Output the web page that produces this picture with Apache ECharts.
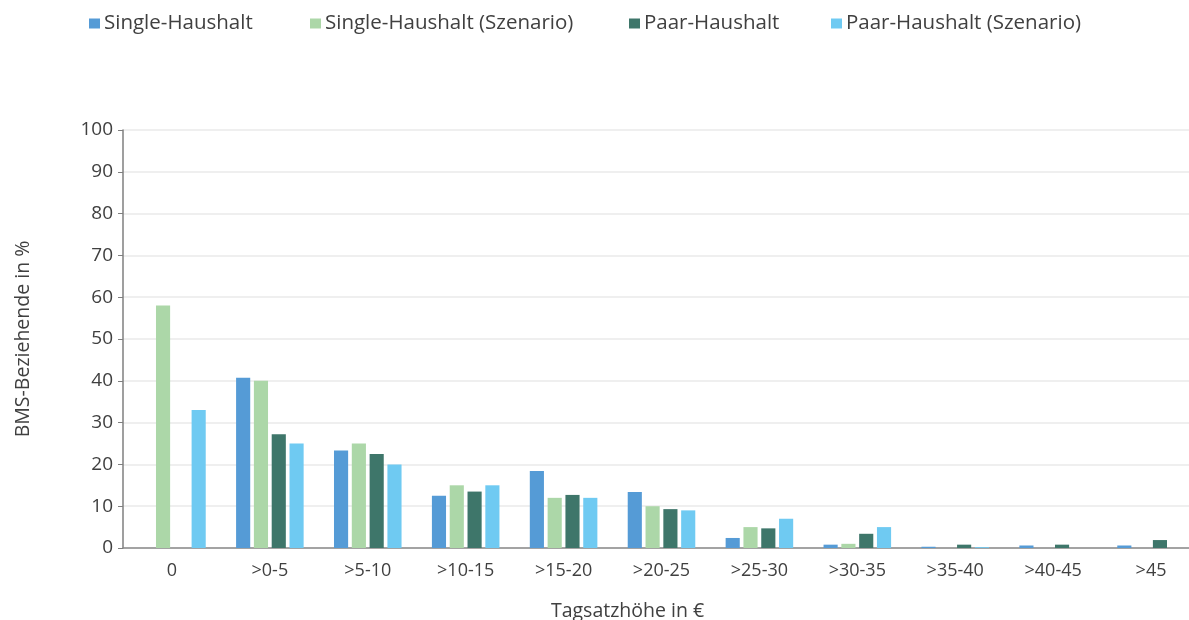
<!DOCTYPE html>
<html lang="de">
	<head>
		<meta charset="UTF-8" />
		<title>Tagsatzhöhe</title>
		<style>
			* {
				box-sizing: border-box;
				margin: 0;
				padding: 0;
			}

			#chart {
				width: 1189px;
				height: 620px;
				background-color: #fff;
			}
		</style>
	</head>
	<body>
		<div id="chart"></div>
		<script src="https://cdn.jsdelivr.net/npm/echarts@6/dist/echarts.min.js"></script>
		<script>
			// Daten
			const categories = ['0', '>0-5', '>5-10', '>10-15', '>15-20', '>20-25', '>25-30', '>30-35', '>35-40', '>40-45', '>45']
			const singleHaushalt = [0, 40.7, 23.3, 12.5, 18.4, 13.4, 2.4, 0.8, 0.3, 0.6, 0.6]
			const singleSzenario = [58, 40, 25, 15, 12, 10, 5, 1, 0, 0, 0]
			const paarHaushalt = [0, 27.2, 22.5, 13.5, 12.7, 9.3, 4.7, 3.4, 0.8, 0.8, 1.9]
			const paarSzenario = [33, 25, 20, 15, 12, 9, 7, 5, 0.2, 0, 0]
			const seriesNames = ['Single-Haushalt', 'Single-Haushalt (Szenario)', 'Paar-Haushalt', 'Paar-Haushalt (Szenario)']

			const font = 'Open Sans'
			const textColor = '#404040'
			const colors = ['#559bd6', '#acd7a8', '#3e766a', '#6fcaf2']

			const values = [singleHaushalt, singleSzenario, paarHaushalt, paarSzenario]
			// Legendenposition (x des Symbols) je Eintrag
			const legendLeft = [89, 310, 629, 831]

			const chart = echarts.init(document.getElementById('chart'))
			chart.setOption({
				animation: false,
				color: colors,
				textStyle: {
					fontFamily: font,
					color: textColor
				},
				legend: seriesNames.map((name, i) => ({
					left: legendLeft[i] - 5,
					top: 8,
					itemWidth: 11,
					itemHeight: 10,
					icon: 'rect',
					textStyle: {
						fontSize: 20.5,
						color: textColor,
						fontFamily: font,
						padding: [0, 0, 0, -1]
					},
					data: [name]
				})),
				grid: {
					left: 123,
					top: 130,
					width: 1077,
					bottom: 72,
					outerBoundsMode: 'none',
					containLabel: false
				},
				xAxis: {
					type: 'category',
					data: categories,
					axisLine: {
						lineStyle: {
							color: '#8a8a8a',
							width: 1.5
						}
					},
					axisTick: {
						show: false
					},
					axisLabel: {
						fontSize: 18,
						color: textColor,
						margin: 14
					},
					name: 'Tagsatzhöhe in €',
					nameLocation: 'middle',
					nameGap: 53,
					nameTextStyle: {
						fontSize: 19.5,
						color: textColor,
						padding: [0, 68, 0, 0]
					}
				},
				yAxis: {
					type: 'value',
					min: 0,
					max: 100,
					interval: 10,
					axisLine: {
						show: true,
						lineStyle: {
							color: '#7f7f7f',
							width: 1.5
						}
					},
					axisTick: {
						show: true,
						length: 5,
						lineStyle: {
							color: '#7f7f7f'
						}
					},
					axisLabel: {
						fontSize: 19,
						color: textColor,
						margin: 10
					},
					splitLine: {
						lineStyle: {
							color: '#efefef',
							width: 2
						}
					},
					name: 'BMS-Beziehende in %',
					nameLocation: 'middle',
					nameGap: 90,
					nameTextStyle: {
						fontSize: 19.5,
						color: textColor
					}
				},
				series: seriesNames.map((name, i) => ({
					name: name,
					type: 'bar',
					data: values[i],
					barGap: '26%',
					barCategoryGap: '31%'
				}))
			})
		</script>
	</body>
</html>
